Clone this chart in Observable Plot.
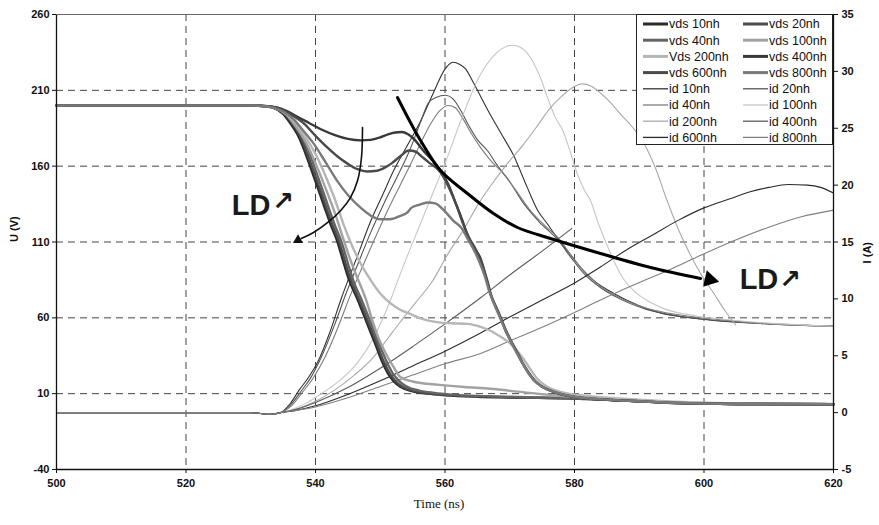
<!DOCTYPE html>
<html><head><meta charset="utf-8">
<script src="https://cdn.jsdelivr.net/npm/d3@7"></script>
<script src="https://cdn.jsdelivr.net/npm/@observablehq/plot@0.6"></script>
<style>
body{margin:0;background:#fff;}
#wrap{position:relative;width:879px;height:525px;}
#legend{position:absolute;left:636px;top:14px;}
</style></head><body><div id="wrap"></div>
<script>
// ---- axis ticks ----
const xTicks = [500,520,540,560,580,600,620];
const uTicks = [-40,10,60,110,160,210,260];
const iTicks = [-5,0,5,10,15,20,25,30,35];
const gridXTicks = [520,540,560,580,600];
const gridYTicks = [10,60,110,160,210];

// ---- drain-source voltage series [time ns, U V] ----
const vds10 = [[500,200],[530,200],[532,199.6],[533.5,198.5],[535,194.5],[536,189],[537.2,181],[538,173.5],[539,162],[540,150],[541.3,134],[542.3,122],[543.4,110],[544.3,97],[545.1,86],[546.5,72],[548,56],[549.3,42],[550.2,32],[551.1,24],[552,18.5],[553.1,14.5],[555,11.5],[557.3,10],[560,9],[565,8],[570,7.5],[580,6.8],[590,5],[596,3.8],[605,3.2],[620,3]];
const vds20 = [[500,200],[530,200],[532,199.6],[533.7,198.4],[535.3,194.3],[536.3,188.8],[537.5,180.8],[538.3,173],[539.3,161.5],[540.3,149.5],[541.6,133.5],[542.6,121.5],[543.7,109.5],[544.6,96.5],[545.4,85.5],[546.8,71.5],[548.3,55.5],[549.6,41.5],[550.5,31.5],[551.4,23.8],[552.3,18.5],[553.4,14.6],[555.3,11.7],[557.6,10.2],[560,9.2],[565,8.2],[570,7.6],[580,6.8],[590,5],[596,3.8],[605,3.2],[620,3]];
const vds40 = [[500,200],[530,200],[532,199.6],[533.9,198.3],[535.6,194],[536.6,188.5],[537.8,180.5],[538.7,172.5],[539.7,161],[540.7,149],[542,133],[543,121],[544.1,109],[545,96],[545.8,85],[547.2,71],[548.7,55],[550,41],[551,31],[551.9,23.5],[552.9,18.5],[554,14.8],[556,12],[558.3,10.5],[561,9.4],[566,8.4],[571,7.8],[580,6.9],[590,5.1],[596,3.9],[605,3.2],[620,3]];
const vds100 = [[500,200],[530,200],[532,199.6],[534,198],[535.5,194],[537,186],[538.5,176],[540,162],[541.5,146],[543,129],[544.3,112],[545.4,98],[546.5,86],[547.8,72],[548.8,58],[549.7,47],[550.8,37],[552,28],[553.1,21],[555,18],[557.3,16.5],[560,15.5],[563,14.4],[567,13.2],[572,11],[578,8.5],[585,6.5],[595,4.3],[605,3.4],[620,3.1]];
const vds200 = [[500,200],[530,200],[532,199.6],[534,198],[535.5,194.5],[537,188],[538.5,179],[540,168],[541.5,154],[543,138],[544.3,122],[545.4,110],[546.7,98],[548.5,85],[550,76],[551.6,69.5],[553,65.5],[554.7,62.5],[556,60],[557.3,58.3],[559,57],[561,56.4],[563.5,56],[565.5,54],[567,51.5],[568.6,47.5],[570.1,43],[571.2,38],[572.1,33],[573.2,26],[574.2,20],[575.8,14.5],[578,11],[582,8.5],[590,6],[600,4],[610,3.4],[620,3.2]];
const vds400 = [[500,200],[530,200],[532,199.7],[534,198.8],[535.5,196.5],[537,193],[539,188.5],[541,184],[543,180.5],[545,178],[547,177],[548.5,177.3],[550,179],[551.2,181],[552.3,182.2],[553.3,182.5],[554.3,181],[555.3,177.5],[556.5,171],[558,164],[559.3,157],[560.5,148],[561.7,135],[562.7,124],[563.5,114],[564.5,106],[565.5,99],[566.3,87],[567,76],[568,66],[568.6,60],[569.3,52],[570.1,45],[571,38],[571.7,32],[572.7,25],[573.7,19],[575,14.5],[576,12.5],[578,9.5],[580,7.8],[585,6],[590,5],[596,3.8],[605,3.2],[620,3]];
const vds600 = [[500,200],[530,200],[532,199.7],[533.8,198.8],[535.2,196.5],[536.6,193],[538.1,188.5],[540,180],[541.9,172],[543.5,166],[545,161.5],[546.5,158],[548,156.5],[549.5,157],[550.5,158.5],[551.8,162],[553.1,166.5],[554.4,170.3],[555.5,169.5],[556.5,166],[557.5,162.5],[559.3,156],[560.6,146],[561.8,134],[562.8,122],[563.7,113],[564.7,105.5],[565.6,97],[566.5,85],[567.2,74],[568.2,64],[568.8,58],[569.5,51],[570.3,44],[571.2,37],[571.9,31],[572.9,24],[573.9,18.5],[575.2,14.2],[576.2,12.2],[578,9.6],[580,7.9],[585,6],[590,5],[596,3.8],[605,3.2],[620,3]];
const vds800 = [[500,200],[530,200],[532,199.7],[533.6,198.5],[535,196],[536.6,191],[538,184],[539.7,175],[541.5,163],[543.4,150],[545,141],[547,132.5],[548.5,127.5],[550,125],[551.5,125],[553,127],[554.2,129.5],[554.8,132.5],[556,134.5],[557.3,136],[558.5,135.5],[559.8,131],[561.3,124],[562.5,119.5],[563.5,112],[564.3,106],[565.2,98],[566.1,88],[566.8,78],[567.8,67],[568.5,60],[569.2,53],[570,46],[570.8,39],[571.6,33],[572.5,26],[573.6,19.5],[574.8,15],[576,12.6],[578,9.7],[580,8],[585,6.1],[590,5],[596,3.8],[605,3.2],[620,3]];

// ---- drain current series [time ns, I A] ----
const id10 = [[500,0],[530,0],[533,-0.15],[534.6,0],[536.1,0.8],[537.5,2],[538.8,3],[540.3,4.4],[542.3,7.2],[543.9,9.9],[545,11.6],[546.5,13.8],[548.5,16.8],[550.5,19.3],[552,21.2],[554.2,23.5],[556.2,25.6],[558.2,28.1],[560,30.2],[561.2,30.8],[562.3,30.6],[563.2,30.2],[564.4,29],[565.5,27.8],[566.6,26.6],[568.6,24.6],[570.6,22.6],[572.7,19.8],[574.3,17.8],[575.8,16.6],[577.8,15],[579.5,13.8],[580.9,12.8],[583,11.6],[586,10.5],[590,9.4],[593.7,8.7],[597,8.4],[601.5,8.1],[610,7.8],[620,7.6]];
const id20 = [[500,0],[530,0],[533,-0.15],[534.6,0],[536.2,0.7],[537.8,1.9],[539.3,3.1],[541,5],[543,7.8],[544.8,10.6],[546.5,13],[548.5,15.8],[550.5,18.3],[552.5,20.6],[554.5,23],[556.2,25.5],[557.4,27.2],[558.6,27.7],[560.1,27.9],[561.2,27.6],[562.4,26.6],[563.6,25.3],[565,24],[566.6,23],[568,21.8],[570,20.3],[572,18.5],[574.5,16.8],[577.4,15.2],[579.5,13.6],[581.5,12.2],[584,11],[587,10],[591,9.1],[596,8.5],[602,8.1],[610,7.8],[620,7.6]];
const id40 = [[500,0],[530,0],[533,-0.15],[534.6,0],[536.3,0.6],[538,1.8],[539.6,3],[541.4,4.8],[543.4,7.4],[545.3,10.2],[547,12.5],[549,15.1],[551,17.6],[553,19.9],[555,22.2],[556.5,24],[558,25.6],[559.3,26.6],[560.5,27],[561.6,26.8],[562.6,26],[564,24.6],[565.5,23.3],[567,22.2],[569,21],[571,19.5],[573,17.9],[575.5,16.4],[577.6,15.3],[579.5,13.8],[581.5,12.4],[584,11.1],[587,10.1],[591,9.2],[596,8.6],[602,8.2],[610,7.8],[620,7.6]];
const id100 = [[500,0],[530,0],[533,-0.15],[534.6,0],[536.5,0.3],[538.8,0.9],[541,1.7],[543.9,2.9],[546.5,4.4],[549,6.6],[550.5,8.4],[551.6,9.9],[552.7,11.6],[554.2,13.8],[556.2,16.6],[558.2,19.4],[560.2,22.2],[562.4,25.6],[564,27.9],[565,29.2],[566.2,30.4],[567.4,31.3],[568.8,32],[570.4,32.3],[571.7,32.1],[572.7,31.6],[573.8,30.6],[574.7,29.5],[575.9,27.6],[577,26],[578.2,24.8],[579.3,23],[580.3,21.2],[581.5,19.6],[582.5,18.6],[583.7,16.6],[584.9,14.9],[586.2,13.2],[587.4,11.9],[589,10.8],[591.1,9.9],[594,9.1],[598.8,8.5],[605,8.1],[612,7.8],[620,7.6]];
const id200 = [[500,0],[530,0],[533,-0.15],[534.6,0],[537,0.3],[540,1],[543,2],[546,3.3],[549,4.9],[551,6.4],[553,7.9],[555.5,9.7],[558,11.5],[560.5,14],[563,16.2],[565,18.2],[567,19.9],[569.5,21.8],[572,23.5],[574,25],[576,26.6],[578,27.8],[579.5,28.5],[581.2,28.9],[582.6,28.7],[584,28.1],[585.5,27.3],[587,26.3],[588.8,25.2],[590.7,23.7],[592.5,21.5],[594.2,18.8],[595.9,16.3],[597.7,14.1],[599.5,12.2],[601.5,10.5],[603.2,9],[604.9,7.7]];
const id400 = [[500,0],[530,0],[533,-0.15],[534.6,0],[537,0.3],[540,0.9],[545,2.2],[550,3.9],[555,5.8],[560,7.8],[565.5,10.1],[570,12.1],[575,14.2],[579.6,16.2]];
const id600 = [[500,0],[530,0],[533,-0.15],[534.6,0],[537,0.2],[540,0.6],[545,1.6],[550,2.8],[555,4.1],[560,5.4],[565.5,7],[570,8.4],[575,9.9],[580,11.4],[584,12.8],[588,14.3],[592,15.6],[596,16.9],[600,18],[604,18.8],[607,19.4],[610,19.8],[613,20.05],[616,20],[618,19.8],[620,19.3]];
const id800 = [[500,0],[530,0],[533,-0.15],[534.6,0],[537,0.2],[540,0.5],[545,1.3],[550,2.3],[555,3.3],[560,4.3],[565.5,5.2],[570,6.3],[575,7.5],[580,8.8],[584,9.9],[589,11.2],[594.4,12.5],[599,13.7],[604.6,15.1],[610,16.3],[614.9,17.2],[620,17.8]];

// ---- names (legend order) ----
const vdsNames = ["vds 10nh","vds 20nh","vds 40nh","vds 100nh","Vds 200nh","vds 400nh","vds 600nh","vds 800nh"];
const idNames  = ["id 10nh","id 20nh","id 40nh","id 100nh","id 200nh","id 400nh","id 600nh","id 800nh"];
const vdsData = [vds10, vds20, vds40, vds100, vds200, vds400, vds600, vds800];
const idData  = [id10, id20, id40, id100, id200, id400, id600, id800];

// ---- styles ----
const vdsColors = ["#2a2a2a","#4c4c4c","#646464","#a2a2a2","#b6b6b6","#383838","#4a4a4a","#7a7a7a"];
const idColors  = ["#333333","#555555","#7c7c7c","#c6c6c6","#a9a9a9","#5c5c5c","#2c2c2c","#808080"];

// ---- annotations (data coordinates: time, U) ----
const arrowLeft  = [[547.26,185.5],[547.1,165.7],[546.5,150.5],[545.4,139.3],[543.9,130.8],[541.9,122.9],[539.7,116.3],[537.8,112.3]];
const arrowLeftHead = [[537.3,111.3]];
const arrowRight = [[552.66,205.28],[553.13,201.32],[556.22,176.92],[559.31,157.14],[563.47,141.98],[567.49,128.79],[571.2,119.56],[576.29,112.31],[584.02,102.42],[591.74,93.19],[599.46,85.94]];
const arrowRightHead = [[600.88,85.22]];
const ldText  = [[530.04,134.07],[608.49,85.28]];
const ldArrow = [[535.0,136.3],[613.3,84.9]];

// amps → position on the volt axis (right axis: -5..35 A ↔ -40..260 V)
const toU = i => 7.5 * i - 2.5;

const marks = [
  Plot.ruleX(gridXTicks, {stroke:"#444", strokeDasharray:"7,5", strokeWidth:1}),
  Plot.ruleY(gridYTicks, {stroke:"#444", strokeDasharray:"7,5", strokeWidth:1}),
];
idData.forEach((s, k) => marks.push(
  Plot.line(s, {x: d => d[0], y: d => toU(d[1]), stroke: idColors[k], strokeWidth: 1.1, curve: "monotone-x"})
));
vdsData.forEach((s, k) => marks.push(
  Plot.line(s, {x: d => d[0], y: d => d[1], stroke: vdsColors[k], strokeWidth: 2.4, curve: "monotone-x"})
));
marks.push(
  Plot.line(arrowLeft, {x: d => d[0], y: d => d[1], stroke:"#111", strokeWidth:1.6, curve:"catmull-rom"}),
  Plot.dot(arrowLeftHead, {x: d => d[0], y: d => d[1], symbol:"triangle2", r:4.8, fill:"#111", stroke:"none", rotate:240.6}),
  Plot.line(arrowRight, {x: d => d[0], y: d => d[1], stroke:"#000", strokeWidth:3, curve:"catmull-rom"}),
  Plot.dot(arrowRightHead, {x: d => d[0], y: d => d[1], symbol:"triangle2", r:8, fill:"#000", stroke:"none", rotate:102.4}),
  Plot.text(ldText, {x: d => d[0], y: d => d[1], text: () => "LD", fontSize:29, fontWeight:"bold", fill:"#1a1a1a", fontFamily:"'Liberation Sans', Arial, sans-serif"}),
  Plot.text(ldArrow, {x: d => d[0], y: d => d[1], text: () => "\u2197", fontSize:26, fontWeight:"bold", fill:"#1a1a1a", fontFamily:"'DejaVu Sans', sans-serif"}),
  Plot.ruleX([500, 620], {stroke:"#111", strokeWidth:1.3}),
  Plot.ruleY([-40], {stroke:"#111", strokeWidth:1.3}),
  Plot.ruleY([260], {stroke:"#666", strokeWidth:1}),
  Plot.axisX({ticks: xTicks, tickFormat: d => String(d), tickSize: 4, tickPadding: 6, label: null, fontWeight:"bold", fontSize: 11}),
  Plot.axisY({ticks: uTicks, tickFormat: d => String(d), tickSize: 4, tickPadding: 3, label: null, fontWeight:"bold", fontSize: 11}),
  Plot.axisY({anchor:"right", ticks: iTicks.map(toU), tickFormat: v => String(Math.round((v + 2.5) / 7.5)), tickSize: 4, tickPadding: 4, label: null, fontWeight:"bold", fontSize: 11}),
  Plot.text(["U (V)"], {frameAnchor:"left", dx:-42, rotate:-90, fontWeight:"bold", fontSize:11}),
  Plot.text(["I (A)"], {frameAnchor:"right", dx:34, rotate:-90, fontWeight:"bold", fontSize:11}),
  Plot.text(["Time (ns)"], {frameAnchor:"bottom", dy:38, dx:-6, fontWeight:"normal", fontSize:13, fontFamily:"'Liberation Serif', 'Times New Roman', serif"})
);

const chart = Plot.plot({
  width: 879, height: 525,
  marginTop: 14, marginRight: 46, marginBottom: 56, marginLeft: 56,
  x: {domain: [500, 620]},
  y: {domain: [-40, 260]},
  style: {fontFamily: "'Liberation Sans', Arial, sans-serif", fontSize: "11px", color: "#111", background: "#fff", overflow: "visible"},
  marks
});
const wrap = document.getElementById("wrap");
wrap.appendChild(chart);

// ---- legend (overlay inside plot area, top right) ----
const legendNames = [...vdsNames, ...idNames];
const legendColors = [...vdsColors, ...idColors];
const legendWidths = [...vdsNames.map(() => 3), ...idNames.map(() => 1.3)];
const lw = 197, lh = 131;
const leg = d3.create("svg").attr("id","legend").attr("width", lw).attr("height", lh)
  .style("font-family","'Liberation Sans', Arial, sans-serif").style("font-size","12.5px");
leg.append("rect").attr("x",0.5).attr("y",0.5).attr("width",lw-1).attr("height",lh-1).attr("fill","#fff").attr("stroke","#222");
legendNames.forEach((name, k) => {
  const row = Math.floor(k / 2), col = k % 2;
  const y = 10 + row * 16.2;
  const x0 = col === 0 ? 7 : 107;
  leg.append("line").attr("x1", x0).attr("x2", x0 + 25).attr("y1", y).attr("y2", y)
    .attr("stroke", legendColors[k]).attr("stroke-width", legendWidths[k]);
  leg.append("text").attr("x", x0 + 26).attr("y", y).attr("dy","0.35em").attr("fill","#111").text(name);
});
wrap.appendChild(leg.node());
</script>
</body></html>
